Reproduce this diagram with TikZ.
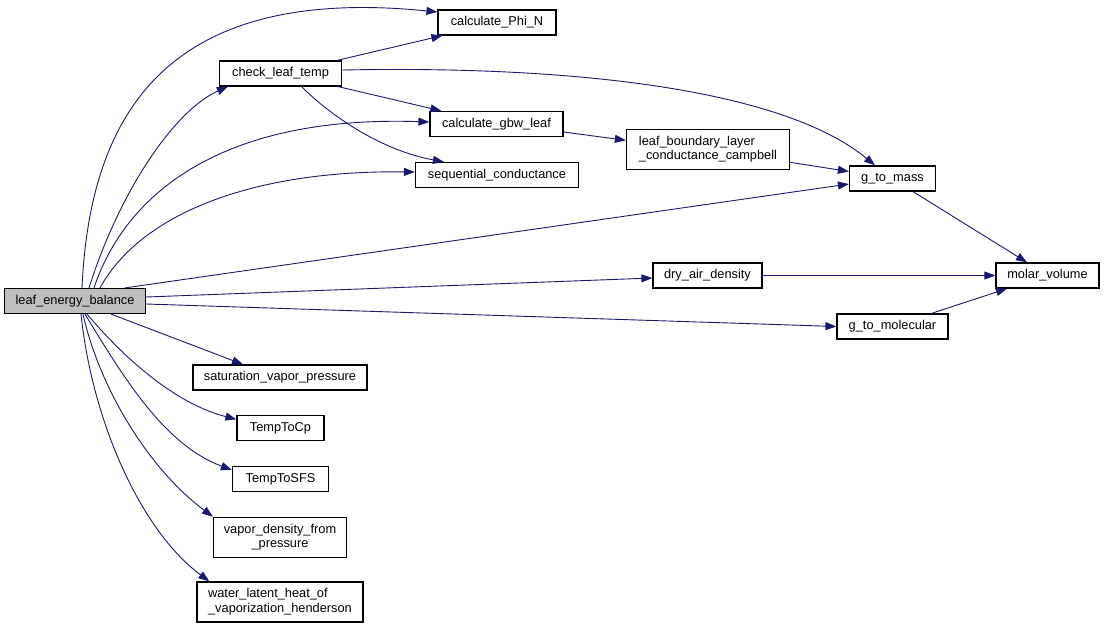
\documentclass[tikz,border=0pt]{standalone}
\usepackage{fontspec}
\setmainfont{Liberation Sans}
\usetikzlibrary{arrows.meta}
\definecolor{edgeblue}{HTML}{191970}
\definecolor{hlgray}{HTML}{BFBFBF}
\begin{document}
\begin{tikzpicture}[x=1pt,y=-1pt,
  fn/.style={draw=black, line width=1.2pt, fill=white, rectangle, inner sep=0pt, minimum height=25pt,
    font=\fontsize{12.8}{14.7}\selectfont},
  fn2/.style={fn, minimum height=40pt},
  call/.style={draw=edgeblue, line width=0.9pt, -{Triangle[length=11pt,width=8pt]}, edgeblue}
]
\useasboundingbox[fill=white] (0,0) rectangle (1104,629);

\node[fn, fill=hlgray, minimum width=141pt] (leb) at (75,301) {leaf\_energy\_balance};
\node[fn, minimum width=118pt] (phi) at (497,22.5) {calculate\_Phi\_N};
\node[fn, minimum width=122pt] (check) at (280.5,73.5) {check\_leaf\_temp};
\node[fn, minimum width=133pt] (gbw) at (496.5,124) {calculate\_gbw\_leaf};
\node[fn, minimum width=163pt] (seq) at (497,175) {sequential\_conductance};
\node[fn2, minimum width=163pt, align=left] (lbl) at (708,149.3) {leaf\_boundary\_layer\\\_conductance\_campbell};
\node[fn, minimum width=86pt] (gmass) at (892.5,178.5) {g\_to\_mass};
\node[fn, minimum width=103pt] (molar) at (1047.5,275.5) {molar\_volume};
\node[fn, minimum width=109pt] (dry) at (707.5,275.5) {dry\_air\_density};
\node[fn, minimum width=111pt] (gmol) at (892.5,326.5) {g\_to\_molecular};
\node[fn, minimum width=174pt] (svp) at (280,377.5) {saturation\_vapor\_pressure};
\node[fn, minimum width=87pt] (cp) at (280.5,428.3) {TempToCp};
\node[fn, minimum width=96pt] (sfs) at (280.5,479) {TempToSFS};
\node[fn2, minimum width=133pt, align=center] (vd) at (280,537.3) {vapor\_density\_from\\\_pressure};
\node[fn2, minimum width=166pt, align=left] (wl) at (280,602) {water\_latent\_heat\_of\\\_vaporization\_henderson};

% from leaf_energy_balance
\draw[call] ([xshift=7pt]leb.north) .. controls (90,110) and (170,-15) .. ([yshift=10.5pt]phi.west);
\draw[call] ([xshift=14pt]leb.north) .. controls (120,190) and (175,110) .. ([xshift=9pt]check.south west);
\draw[call] ([xshift=19pt]leb.north) .. controls (125,195) and (220,115) .. ([yshift=2pt]gbw.west);
\draw[call] ([xshift=25pt]leb.north) .. controls (140,215) and (250,170) .. ([yshift=3pt]seq.west);
\draw[call] ([xshift=50pt]leb.north) -- ([yshift=-5.5pt]gmass.west);
\draw[call] ([yshift=4pt]leb.east) -- ([yshift=-2.5pt]dry.west);
\draw[call] ([yshift=-3pt]leb.east) -- (gmol.west);
\draw[call] ([xshift=36pt]leb.south) -- ([xshift=-37pt]svp.north);
\draw[call] ([xshift=12pt]leb.south) .. controls (130,365) and (180,405) .. ([yshift=9pt]cp.west);
\draw[call] ([xshift=10pt]leb.south) .. controls (125,380) and (165,445) .. ([yshift=9pt]sfs.west);
\draw[call] ([xshift=8pt]leb.south) .. controls (100,390) and (150,470) .. (vd.north west);
\draw[call] ([xshift=6pt]leb.south) .. controls (92,420) and (140,530) .. ([xshift=13pt]wl.north west);

% from check_leaf_temp
\draw[call] ([xshift=-5pt]check.north east) -- ([xshift=5pt]phi.south west);
\draw[call] ([yshift=3.5pt]check.east) .. controls (600,65) and (790,95) .. ([xshift=-17.5pt]gmass.north);
\draw[call] ([xshift=-4pt]check.south east) -- ([xshift=12pt]gbw.north west);
\draw[call] ([xshift=21pt]check.south) .. controls (330,115) and (380,150) .. ([xshift=29pt]seq.north west);

% others
\draw[call] ([yshift=-8pt]gbw.east) -- ([yshift=9pt]lbl.west);
\draw[call] ([yshift=-13pt]lbl.east) -- ([yshift=7pt]gmass.west);
\draw[call] ([xshift=20.5pt]gmass.south) -- ([xshift=-20.5pt]molar.north);
\draw[call] (dry.east) -- (molar.west);
\draw[call] ([xshift=39pt]gmol.north) -- ([xshift=-40.5pt]molar.south);
\end{tikzpicture}
\end{document}
